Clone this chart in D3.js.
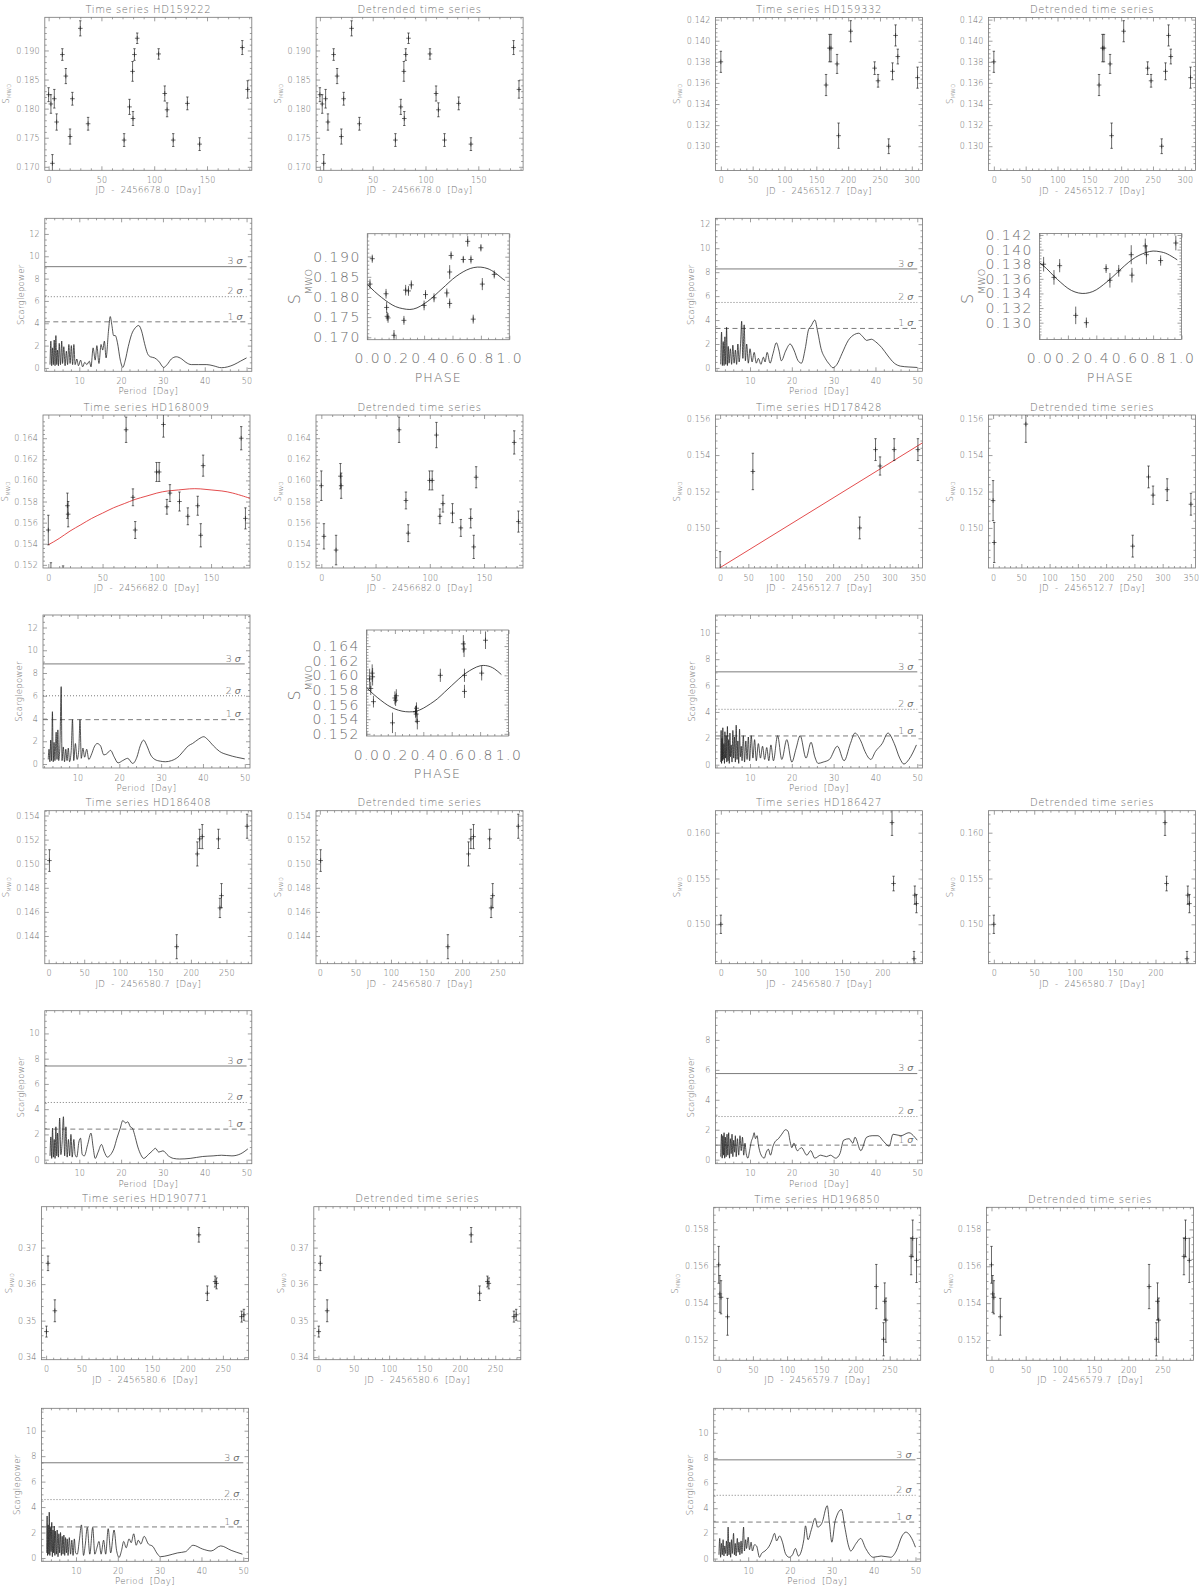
<!DOCTYPE html>
<html><head><meta charset="utf-8">
<script src="https://cdn.jsdelivr.net/npm/d3@7"></script>
<style>
body{margin:0;background:#fff}
</style></head><body>
<svg id="c" width="1200" height="1587" xmlns="http://www.w3.org/2000/svg"></svg>
<script>
// ================= DATA =================
// HD159222
const hd159222T = [0,2.2,3.6,5.4,7.6,13,16.3,20.3,22.5,30,37.4,71.5,76.6,79.5,79.9,81.3,83.9,104.2,110,112.2,118,131.4,143,183.4,188.5];
const hd159222S = [0.1824,0.1808,0.1706,0.1817,0.1777,0.1893,0.1856,0.1752,0.1817,0.1938,0.1774,0.1746,0.1803,0.1864,0.1783,0.1893,0.1921,0.1894,0.1826,0.1798,0.1746,0.1809,0.1739,0.1905,0.1833];
const hd159222Detr = [0.1824,0.1808,0.1706,0.1817,0.1777,0.1893,0.1856,0.1752,0.1817,0.1938,0.1774,0.1746,0.1803,0.1864,0.1783,0.1893,0.1921,0.1894,0.1826,0.1798,0.1746,0.1809,0.1739,0.1905,0.1833];
const hd159222E = [0.0012,0.0016,0.0015,0.0016,0.0014,0.001,0.0013,0.0013,0.0011,0.0013,0.0011,0.0011,0.0013,0.0017,0.0012,0.001,0.0009,0.0009,0.0013,0.0012,0.0011,0.0011,0.0011,0.0012,0.0015];
const hd159222Ph = [0.019,0.035,0.132,0.136,0.140,0.146,0.188,0.258,0.270,0.290,0.310,0.400,0.410,0.470,0.560,0.580,0.580,0.590,0.676,0.707,0.730,0.746,0.800,0.810,0.894];
const hd159222PhS = [0.1832,0.1895,0.1808,0.1774,0.1752,0.1748,0.1705,0.1742,0.1817,0.1815,0.1830,0.1779,0.1806,0.1798,0.1810,0.1784,0.1862,0.1903,0.1893,0.1938,0.1893,0.1745,0.1922,0.1832,0.1856];
const hd159222PhE = [0.0012,0.0010,0.0012,0.0014,0.0011,0.0012,0.0013,0.0011,0.0013,0.0012,0.0011,0.0012,0.0011,0.0011,0.0011,0.0012,0.0017,0.0010,0.0009,0.0013,0.0010,0.0011,0.0009,0.0015,0.0010];
const hd159222Fit = [[0,0.1831],[0.05,0.1814],[0.1,0.1799],[0.15,0.1786],[0.2,0.1776],[0.25,0.1771],[0.3,0.1769],[0.35,0.1773],[0.4,0.1783],[0.45,0.1796],[0.5,0.1812],[0.55,0.1828],[0.6,0.1844],[0.65,0.1857],[0.7,0.1867],[0.75,0.1873],[0.8,0.1874],[0.85,0.1870],[0.9,0.1860],[0.95,0.1846],[0.97,0.1841]];
const pgHD159222 = [[3.0,0.3],[3.2,2.4],[3.4,0.2],[3.6,1.8],[3.8,0.3],[4.0,2.5],[4.2,0.2],[4.4,2.9],[4.6,0.3],[4.8,1.6],[5.0,0.2],[5.2,2.2],[5.5,0.3],[5.8,2.4],[6.0,0.4],[6.3,1.9],[6.6,0.2],[6.9,1.5],[7.2,0.3],[7.5,2.1],[7.8,0.4],[8.1,2.0],[8.4,0.3],[8.7,2.1],[9.0,0.3],[9.4,0.8],[9.8,0.2],[10.3,0.7],[10.8,0.1],[11.3,0.5],[11.8,0.3],[12.4,0.6],[12.8,0.1],[13.3,1.8],[13.8,0.7],[14.2,2.0],[14.7,0.4],[15.2,2.1],[15.6,1.6],[16.0,2.4],[16.4,0.9],[17.0,3.4],[17.4,4.6],[17.8,3.8],[18.2,2.9],[18.6,2.9],[19.1,2.3],[19.8,0.7],[20.4,0.05],[21.0,0.7],[21.7,1.9],[22.5,3.0],[23.4,3.6],[24.2,3.8],[24.9,3.3],[25.6,2.2],[26.3,1.3],[27.0,1.0],[28.0,0.9],[29.0,0.6],[30.2,0.05],[31.0,0.3],[32.0,0.8],[33.2,1.0],[34.5,0.8],[35.5,0.5],[36.8,0.3],[38.5,0.3],[40.5,0.3],[42.0,0.2],[44.0,0.02],[45.5,0.1],[47.0,0.3],[48.5,0.6],[50.0,0.9]];
const sigHD159222 = [4.13,6.38,9.07];

// HD159332
const hd159332T = [0,165.3,170.6,173,182.6,185,204,241.6,247,263.7,269.7,274.5,278,309];
const hd159332S = [0.1380,0.1358,0.1393,0.1393,0.1378,0.1310,0.1409,0.1374,0.1362,0.1300,0.1371,0.1405,0.1385,0.1365];
const hd159332Detr = [0.1380,0.1358,0.1393,0.1393,0.1378,0.1310,0.1409,0.1374,0.1362,0.1300,0.1371,0.1405,0.1385,0.1365];
const hd159332E = [0.001,0.001,0.0013,0.0013,0.0009,0.0012,0.001,0.0006,0.0006,0.0007,0.0008,0.001,0.0007,0.001];
const hd159332Ph = [0.029,0.102,0.142,0.255,0.330,0.469,0.496,0.558,0.646,0.651,0.745,0.753,0.853,0.960];
const hd159332PhS = [0.1380,0.1362,0.1378,0.1310,0.1300,0.1374,0.1358,0.1371,0.1393,0.1365,0.1405,0.1393,0.1385,0.1409];
const hd159332PhE = [0.001,0.001,0.0009,0.0012,0.0007,0.0006,0.001,0.0008,0.0013,0.001,0.001,0.0013,0.0007,0.001];
const hd159332Fit = [[0,0.1382],[0.05,0.1374],[0.1,0.1364],[0.15,0.1355],[0.2,0.1347],[0.25,0.1342],[0.3,0.1340],[0.35,0.1341],[0.4,0.1345],[0.45,0.1352],[0.5,0.1360],[0.55,0.1369],[0.6,0.1378],[0.65,0.1386],[0.7,0.1392],[0.75,0.1396],[0.8,0.1398],[0.85,0.1397],[0.9,0.1394],[0.97,0.1386]];
const pgHD159332 = [[3.0,0.3],[3.2,3.0],[3.4,0.2],[3.6,2.2],[3.8,0.2],[4.0,2.6],[4.2,0.3],[4.4,3.4],[4.6,0.2],[4.8,1.8],[5.0,0.4],[5.3,1.6],[5.6,0.3],[5.9,1.9],[6.2,0.4],[6.5,1.5],[6.8,0.3],[7.1,2.0],[7.4,0.5],[7.8,2.4],[8.0,3.9],[8.3,0.8],[8.6,3.6],[8.9,0.6],[9.2,2.0],[9.6,0.4],[10.0,1.6],[10.5,0.5],[11.0,1.3],[11.5,0.4],[12.0,0.8],[12.6,0.3],[13.2,0.9],[13.6,0.5],[14.1,1.3],[14.8,0.4],[15.5,1.2],[16.3,2.1],[16.9,1.5],[17.5,0.6],[18.5,1.4],[19.6,2.0],[20.5,1.5],[21.5,0.6],[22.3,0.4],[23.2,1.6],[24.0,3.2],[24.6,3.5],[25.5,4.0],[26.2,3.0],[27.0,1.6],[28.0,0.8],[29.0,0.3],[29.8,0.02],[30.8,0.3],[32.0,1.2],[33.5,2.3],[35.0,2.8],[36.0,2.9],[37.0,2.6],[37.9,2.3],[39.0,2.4],[40.0,2.2],[41.5,1.7],[43.0,1.0],[44.5,0.4],[46.0,0.15],[48.0,0.08],[50.0,0.04]];
const sigHD159332 = [3.30,5.47,8.27];

// HD168009
const hd168009T = [0,2.4,13.6,17.6,18.3,71.7,78,80.1,99.8,102.2,106.1,109.3,112.1,120.9,128.6,137.7,140.5,142.7,177.8,181.7];
const hd168009S = [0.1553,0.1510,0.1505,0.1576,0.1568,0.1648,0.1584,0.1553,0.1608,0.1608,0.1653,0.1575,0.1588,0.1580,0.1566,0.1576,0.1548,0.1614,0.1640,0.1564];
const hd168009Detr = [0.1595,0.1547,0.1534,0.1604,0.1595,0.1648,0.1581,0.1550,0.1600,0.1600,0.1643,0.1566,0.1578,0.1569,0.1555,0.1564,0.1537,0.1603,0.1636,0.1561];
const hd168009E = [0.0014,0.0012,0.0014,0.0012,0.0012,0.0012,0.0008,0.0008,0.0009,0.0009,0.0012,0.0007,0.0008,0.0009,0.0008,0.0009,0.0011,0.001,0.0011,0.001];
const hd168009TrendT = [0,10,20,30,40,50,60,70,80,90,100,110,120,130,140,150,160,170,180,186];
const hd168009TrendS = [0.1539,0.1545,0.1552,0.1558,0.1564,0.1569,0.1574,0.1578,0.1582,0.1585,0.1588,0.1590,0.1591,0.1592,0.1592,0.1591,0.1590,0.1588,0.1585,0.1583];
const hd168009Ph = [0.022,0.030,0.043,0.040,0.049,0.183,0.200,0.205,0.210,0.345,0.350,0.358,0.352,0.520,0.682,0.687,0.690,0.690,0.811,0.838];
const hd168009PhS = [0.1595,0.1582,0.1598,0.1603,0.1564,0.1535,0.1569,0.1566,0.1572,0.1550,0.1547,0.1537,0.1555,0.1600,0.1643,0.1636,0.1600,0.1578,0.1603,0.1648];
const hd168009PhE = [0.0014,0.0009,0.0012,0.0012,0.0008,0.0014,0.0009,0.0008,0.0009,0.0008,0.0012,0.0011,0.0008,0.0009,0.0012,0.0011,0.0009,0.0009,0.001,0.0012];
const hd168009Fit = [[0,0.1583],[0.05,0.1574],[0.1,0.1566],[0.15,0.1559],[0.2,0.1554],[0.25,0.1551],[0.3,0.1550],[0.35,0.1551],[0.4,0.1555],[0.45,0.1561],[0.5,0.1568],[0.55,0.1577],[0.6,0.1586],[0.65,0.1595],[0.7,0.1603],[0.75,0.1609],[0.8,0.1613],[0.85,0.1613],[0.9,0.1609],[0.95,0.1601]];
const pgHD168009 = [[3.0,0.4],[3.2,1.3],[3.4,0.2],[3.6,2.1],[3.8,0.3],[4.0,4.6],[4.2,0.2],[4.4,1.9],[4.6,0.3],[4.9,2.8],[5.1,0.4],[5.3,3.0],[5.5,0.3],[5.8,1.7],[6.1,6.8],[6.3,0.3],[6.6,1.5],[6.9,0.2],[7.2,1.3],[7.5,0.3],[7.8,1.4],[8.1,0.2],[8.5,1.2],[8.8,3.9],[9.1,0.3],[9.5,1.8],[9.9,0.4],[10.3,1.2],[10.6,3.9],[10.9,0.5],[11.3,1.4],[11.7,0.6],[12.2,1.3],[12.7,0.4],[13.4,0.9],[14.0,1.5],[14.7,1.8],[15.5,1.6],[16.3,0.8],[17.0,0.9],[17.9,1.2],[18.8,0.6],[19.7,0.1],[20.8,0.3],[22.0,0.5],[23.2,0.05],[24.2,0.6],[25.0,1.6],[25.8,2.1],[26.6,1.6],[27.5,0.8],[28.5,0.4],[29.8,0.25],[31.0,0.2],[32.5,0.3],[34.0,0.6],[35.5,1.2],[36.5,1.6],[37.5,1.8],[39.0,2.2],[40.2,2.4],[41.0,2.2],[42.5,1.6],[44.0,1.1],[46.0,0.8],[48.0,0.6],[50.0,0.45]];
const sigHD168009 = [3.9,6.0,8.8];

// HD178428
const hd178428T = [0,2,58,247,275,283,308,350];
const hd178428S = [0.1476,0.1454,0.1531,0.1500,0.1543,0.1534,0.1543,0.1543];
const hd178428Detr = [0.1515,0.1492,0.1557,0.1490,0.1528,0.1518,0.1521,0.1513];
const hd178428E = [0.0011,0.0011,0.001,0.0006,0.0006,0.0005,0.0006,0.0006];
const hd178428TrendT = [0,358];
const hd178428TrendS = [0.14782,0.15467];
const pgHD178428 = [[3.0,0.2],[3.1,2.6],[3.2,0.1],[3.3,2.0],[3.4,0.3],[3.5,2.8],[3.6,0.4],[3.75,1.6],[3.9,0.1],[4.0,2.5],[4.15,0.5],[4.3,2.2],[4.45,0.2],[4.6,2.9],[4.75,0.3],[4.9,1.9],[5.05,0.1],[5.2,2.4],[5.35,0.6],[5.5,1.5],[5.7,0.2],[5.9,2.6],[6.1,0.5],[6.3,2.1],[6.5,0.2],[6.7,3.0],[6.9,0.4],[7.1,1.8],[7.3,0.1],[7.5,2.7],[7.7,0.6],[7.9,1.4],[8.1,0.3],[8.4,2.2],[8.7,0.2],[9.0,1.8],[9.3,0.4],[9.6,2.1],[9.9,0.3],[10.3,2.2],[10.7,0.5],[11.1,1.9],[11.5,0.3],[12.0,1.6],[12.5,0.5],[13.0,1.4],[13.5,0.4],[14.0,1.3],[14.5,0.3],[15.0,1.5],[15.6,0.3],[16.6,2.2],[17.6,0.4],[18.8,1.9],[20.0,0.2],[21.0,1.2],[22.0,2.2],[23.4,0.5],[24.6,1.7],[25.5,0.6],[26.3,0.1],[27.5,0.2],[29.0,0.4],[30.9,1.4],[32.5,0.3],[34.0,1.6],[35.1,2.4],[36.5,1.8],[37.5,1.0],[38.9,0.4],[40.0,1.0],[41.6,1.6],[43.0,2.4],[44.5,1.6],[45.8,0.5],[46.8,0.05],[48.0,0.4],[49.8,1.5]];
const sigHD178428 = [2.18,4.2,7.04];

// HD186408
const hd186408T = [1.1,180,209,212.3,216,238.7,240.8,243,279];
const hd186408S = [0.15026,0.14311,0.15081,0.15206,0.15225,0.15206,0.14633,0.14735,0.15311];
const hd186408Detr = [0.15026,0.14311,0.15081,0.15206,0.15225,0.15206,0.14633,0.14735,0.15311];
const hd186408E = [0.0009,0.001,0.001,0.0008,0.001,0.0008,0.0008,0.001,0.001];
const pgHD186408 = [[3.0,0.3],[3.2,1.8],[3.4,0.1],[3.6,2.5],[3.8,0.2],[4.0,1.6],[4.2,0.1],[4.4,2.6],[4.6,0.3],[4.8,2.1],[5.0,0.2],[5.3,3.3],[5.6,0.4],[5.9,1.4],[6.2,3.4],[6.5,0.3],[6.8,2.6],[7.1,0.2],[7.4,1.6],[7.7,0.3],[8.0,2.0],[8.3,0.2],[8.7,1.6],[9.0,0.4],[9.4,0.2],[9.9,1.4],[10.3,1.7],[10.7,0.4],[11.2,0.3],[12.0,1.2],[12.8,2.1],[13.3,1.0],[13.8,0.1],[14.5,0.6],[15.3,1.2],[16.0,0.6],[16.7,0.2],[17.5,0.4],[18.3,0.9],[19.0,1.7],[19.8,2.5],[20.4,3.1],[21.1,2.9],[21.6,3.0],[22.2,2.6],[22.7,2.5],[23.2,2.0],[24.0,1.0],[24.7,0.4],[25.4,0.1],[26.5,0.4],[27.5,0.7],[28.2,0.9],[29.0,0.6],[30.0,0.7],[31.3,0.3],[32.5,0.1],[34.0,0.05],[36.5,0.1],[39.5,0.25],[42.0,0.3],[44.0,0.35],[46.5,0.3],[48.5,0.45],[50.3,0.85]];
const sigHD186408 = [2.42,4.53,7.42];

// HD186427
const hd186427T = [0,211.8,213.7,239,240,242];
const hd186427S = [0.1500,0.1611,0.15445,0.14624,0.15318,0.15226];
const hd186427Detr = [0.1500,0.1611,0.15445,0.14624,0.15318,0.15226];
const hd186427E = [0.001,0.0014,0.0008,0.0008,0.001,0.001];
const pgHD186427 = [[3.0,0.2],[3.2,1.7],[3.35,0.1],[3.5,1.6],[3.65,0.3],[3.8,1.8],[3.95,0.1],[4.1,1.5],[4.3,0.2],[4.5,1.7],[4.7,0.3],[4.9,1.8],[5.1,0.1],[5.3,1.4],[5.5,0.4],[5.7,1.7],[5.9,0.2],[6.1,1.3],[6.3,0.5],[6.5,1.6],[6.7,0.2],[7.0,1.4],[7.3,0.3],[7.6,1.6],[7.9,0.6],[8.2,1.5],[8.5,0.3],[8.8,1.1],[9.1,0.4],[9.5,0.1],[9.9,0.6],[10.3,1.2],[10.7,1.5],[11.0,1.8],[11.3,1.4],[11.7,1.6],[12.0,1.0],[12.4,0.5],[12.9,0.2],[13.4,0.1],[13.9,0.5],[14.4,0.7],[14.9,0.3],[15.5,0.9],[16.0,1.2],[16.8,1.4],[17.6,1.7],[18.5,2.0],[19.1,1.9],[19.6,1.2],[20.0,0.8],[20.5,1.1],[21.3,0.6],[22.3,0.8],[23.6,0.3],[24.5,0.6],[25.5,0.1],[26.9,0.3],[28.3,0.2],[29.2,0.3],[30.5,0.1],[31.5,0.4],[32.4,1.3],[33.7,1.4],[34.6,1.1],[35.1,1.5],[36.5,0.6],[37.9,1.5],[39.2,1.6],[40.6,1.6],[42.0,1.2],[43.3,0.9],[44.2,1.7],[46.1,1.6],[48.0,1.8],[49.4,1.5],[50.0,1.3]];
const sigHD186427 = [0.97,2.88,5.75];

// HD190771
const hd190771T = [0.5,2.7,12.4,216,228,239,241,276.5,279.7];
const hd190771S = [0.3470,0.3657,0.3527,0.3735,0.3575,0.3607,0.3602,0.3511,0.3516];
const hd190771Detr = [0.3470,0.3657,0.3527,0.3735,0.3575,0.3607,0.3602,0.3511,0.3516];
const hd190771E = [0.0015,0.002,0.003,0.002,0.002,0.0015,0.0015,0.0015,0.0015];
const pgHD190771 = [[3.0,0.4],[3.1,3.3],[3.2,0.2],[3.35,2.6],[3.5,0.3],[3.6,3.6],[3.75,0.2],[3.9,2.4],[4.05,0.5],[4.2,2.8],[4.35,0.1],[4.5,2.2],[4.65,0.4],[4.8,2.5],[4.95,0.2],[5.1,2.1],[5.3,0.3],[5.5,2.2],[5.7,0.1],[5.9,1.9],[6.1,0.4],[6.3,2.0],[6.5,0.2],[6.7,1.7],[6.9,0.3],[7.1,1.8],[7.3,0.2],[7.5,1.6],[7.7,0.4],[7.9,1.5],[8.1,0.2],[8.4,1.6],[8.7,0.3],[9.0,1.4],[9.3,0.2],[9.6,1.5],[9.9,0.4],[10.3,0.3],[10.8,1.4],[11.3,2.6],[11.8,0.2],[12.2,1.0],[12.7,2.4],[13.3,0.3],[14.0,2.4],[14.5,0.3],[15.0,0.8],[15.5,1.3],[16.0,0.3],[16.6,1.4],[17.1,0.3],[17.7,2.3],[18.3,0.4],[19.1,2.2],[19.7,0.6],[20.3,0.05],[20.9,0.6],[21.4,1.3],[22.0,0.8],[22.7,1.5],[23.2,1.2],[23.8,1.9],[24.4,1.0],[24.9,1.4],[25.5,1.1],[26.3,1.7],[27.3,1.1],[28.4,0.9],[29.3,0.4],[30.2,0.1],[32.0,0.2],[34.3,0.4],[36.2,0.5],[38.0,1.0],[40.3,0.7],[42.3,0.55],[44.6,0.95],[47.1,0.6],[49.8,0.3]];
const sigHD190771 = [2.44,4.59,7.48];

// HD196850
const hd196850T = [0,1.7,3.4,12.9,230.4,241,242.7,244.4,281.3,283.6,289.2];
const hd196850S = [0.15608,0.1545,0.15432,0.15326,0.1549,0.15204,0.1541,0.15308,0.15654,0.15751,0.15632];
const hd196850Detr = [0.15608,0.1545,0.15432,0.15326,0.1549,0.15204,0.1541,0.15308,0.15654,0.15751,0.15632];
const hd196850E = [0.001,0.001,0.0009,0.001,0.0012,0.0009,0.001,0.0012,0.001,0.001,0.0012];
const pgHD196850 = [[3.0,0.3],[3.2,1.6],[3.4,0.1],[3.6,1.2],[3.8,0.3],[4.0,1.5],[4.2,0.2],[4.4,1.0],[4.6,0.4],[4.8,1.4],[5.0,0.2],[5.2,2.5],[5.4,0.3],[5.6,1.3],[5.8,0.1],[6.0,1.5],[6.2,0.4],[6.5,2.0],[6.7,0.3],[6.9,1.2],[7.1,0.2],[7.4,1.6],[7.6,0.5],[7.8,1.3],[8.0,0.3],[8.3,1.4],[8.5,0.4],[8.9,2.5],[9.1,0.6],[9.4,1.5],[9.6,0.8],[10.0,1.7],[10.3,0.7],[10.7,1.3],[11.0,0.6],[11.5,1.1],[12.0,1.0],[12.7,0.1],[13.2,0.4],[14.0,0.6],[15.2,1.1],[15.7,1.5],[16.3,2.0],[16.8,1.4],[17.5,1.8],[18.2,1.3],[18.9,0.4],[19.8,0.1],[20.6,0.3],[21.3,0.8],[22.0,0.2],[23.3,1.5],[23.7,2.6],[24.3,1.5],[25.1,2.3],[26.0,3.2],[26.6,2.5],[27.6,2.8],[28.9,4.2],[29.4,2.9],[30.0,1.3],[30.8,3.0],[32.3,3.9],[33.1,2.5],[34.0,1.0],[34.5,0.6],[35.8,1.2],[36.9,1.6],[38.1,0.8],[39.9,0.1],[41.8,0.2],[44.1,0.1],[45.4,0.6],[46.8,1.8],[47.7,2.1],[49.1,1.6],[50.0,0.9]];
const sigHD196850 = [2.9,5.03,7.85];

// tick labels
const xTicks150 = [0,50,100,150];
const xTicks200 = [0,50,100,150,200];
const xTicks250 = [0,50,100,150,200,250];
const xTicks300 = [0,50,100,150,200,250,300];
const xTicks350 = [0,50,100,150,200,250,300,350];
const yTicksHD159222 = [0.170,0.175,0.180,0.185,0.190];
const yTicksHD159332 = [0.130,0.132,0.134,0.136,0.138,0.140,0.142];
const yTicksHD168009 = [0.152,0.154,0.156,0.158,0.160,0.162,0.164];
const yTicksHD178428 = [0.150,0.152,0.154,0.156];
const yTicksHD186408 = [0.144,0.146,0.148,0.150,0.152,0.154];
const yTicksHD186427 = [0.150,0.155,0.160];
const yTicksHD190771 = [0.34,0.35,0.36,0.37];
const yTicksHD196850 = [0.152,0.154,0.156,0.158];
const pgXTicks = [10,20,30,40,50];
const pgYTicks12 = [0,2,4,6,8,10,12];
const pgYTicks10 = [0,2,4,6,8,10];
const pgYTicks8 = [0,2,4,6,8];
const phaseTicks = [0,0.2,0.4,0.6,0.8,1.0];
const sigmaNames = ["1","2","3"];

// ================= CONFIG (scales / layout) =================
const stars = [
 {star:"HD159222", jd:"2456678.0", t:hd159222T, s:hd159222S, d:hd159222Detr, e:hd159222E, xd:[-3.6,192.4], yd:[0.1694,0.1957], xt:xTicks150, yt:yTicksHD159222, dec:3, pg:pgHD159222, sig:sigHD159222, pgy:[-0.3,13.4], pgyt:pgYTicks12,
  ph:{p:hd159222Ph, s:hd159222PhS, e:hd159222PhE, fit:hd159222Fit}},
 {star:"HD159332", jd:"2456512.7", t:hd159332T, s:hd159332S, d:hd159332Detr, e:hd159332E, xd:[-8.4,316.8], yd:[0.1277,0.1422], xt:xTicks300, yt:yTicksHD159332, dec:3, pg:pgHD159332, sig:sigHD159332, pgy:[-0.28,12.5], pgyt:pgYTicks12,
  ph:{p:hd159332Ph, s:hd159332PhS, e:hd159332PhE, fit:hd159332Fit}},
 {star:"HD168009", jd:"2456682.0", t:hd168009T, s:hd168009S, d:hd168009Detr, e:hd168009E, xd:[-4.9,185.9], yd:[0.1517,0.1662], xt:xTicks150, yt:yTicksHD168009, dec:3, pg:pgHD168009, sig:sigHD168009, pgy:[-0.35,13.1], pgyt:pgYTicks12,
  trend:{t:hd168009TrendT, s:hd168009TrendS, curve:true},
  ph:{p:hd168009Ph, s:hd168009PhS, e:hd168009PhE, fit:hd168009Fit}},
 {star:"HD178428", jd:"2456512.7", t:hd178428T, s:hd178428S, d:hd178428Detr, e:hd178428E, xd:[-8.1,358.1], yd:[0.1478,0.1562], xt:xTicks350, yt:yTicksHD178428, dec:3, pg:pgHD178428, sig:sigHD178428, pgy:[-0.25,11.35], pgyt:pgYTicks10,
  trend:{t:hd178428TrendT, s:hd178428TrendS, curve:false}},
 {star:"HD186408", jd:"2456580.7", t:hd186408T, s:hd186408S, d:hd186408Detr, e:hd186408E, xd:[-5.4,285.6], yd:[0.1417,0.1544], xt:xTicks250, yt:yTicksHD186408, dec:3, pg:pgHD186408, sig:sigHD186408, pgy:[-0.32,11.8], pgyt:pgYTicks10},
 {star:"HD186427", jd:"2456580.7", t:hd186427T, s:hd186427S, d:hd186427Detr, e:hd186427E, xd:[-6.6,249.5], yd:[0.1457,0.1624], xt:xTicks200, yt:yTicksHD186427, dec:3, pg:pgHD186427, sig:sigHD186427, pgy:[-0.27,9.95], pgyt:pgYTicks8},
 {star:"HD190771", jd:"2456580.6", t:hd190771T, s:hd190771S, d:hd190771Detr, e:hd190771E, xd:[-6.5,286.2], yd:[0.3393,0.3812], xt:xTicks250, yt:yTicksHD190771, dec:2, pg:pgHD190771, sig:sigHD190771, pgy:[-0.26,11.76], pgyt:pgYTicks10},
 {star:"HD196850", jd:"2456579.7", t:hd196850T, s:hd196850S, d:hd196850Detr, e:hd196850E, xd:[-7.3,295.3], yd:[0.1509,0.1592], xt:xTicks250, yt:yTicksHD196850, dec:3, pg:pgHD196850, sig:sigHD196850, pgy:[-0.22,11.95], pgyt:pgYTicks10}
];
const layout = {
 HD159222:{ts:[44.8,17.3], det:[316.1,17.3], pg:[44.8,218.3], ph:[367.3,233.7]},
 HD159332:{ts:[715.5,17.5], det:[988.5,17.5], pg:[715.5,218.3], ph:[1039.5,233.5]},
 HD168009:{ts:[43,415], det:[316,415], pg:[43,615], ph:[366.5,630]},
 HD178428:{ts:[715.5,415], det:[988.5,415], pg:[715.5,615]},
 HD186408:{ts:[44.8,810.7], det:[316,810.7], pg:[44.8,1010.7]},
 HD186427:{ts:[715.5,810.7], det:[988.5,810.7], pg:[715.5,1010.7]},
 HD190771:{ts:[41.5,1206.7], det:[313.8,1206.7], pg:[41.5,1408.3]},
 HD196850:{ts:[713.7,1207.3], det:[986.5,1207.3], pg:[713.7,1408.3]}
};
const W = 207, H = 153, PW = 142, PH = 106;
const PG_XD = [1.75,51.25];
const FONT = "'DejaVu Sans', 'Liberation Sans', sans-serif";
const FW = 200;
const AX = "#767676", TXT = "#6c6c6c", INK = "#1c1c1c", RED = "#e0393a";

// ================= DRAWING =================
const svg = d3.select("#c");
const defs = svg.append("defs");
let clipN = 0;

function minors(domain, majors, n){
  const step = majors[1]-majors[0], ms = step/n, out = [];
  const k0 = Math.ceil(domain[0]/ms - 1e-6), k1 = Math.floor(domain[1]/ms + 1e-6);
  for (let k=k0;k<=k1;k++){
    const v = +(k*ms).toFixed(10);
    if (Math.abs(Math.round(k) % n) !== 0) out.push(v);
  }
  return out;
}

function text(str, x, y, o){
  const t = svg.append("text").attr("x",x).attr("y",y)
    .attr("font-family",FONT).attr("font-weight",FW).attr("font-size",o.size).attr("fill",TXT)
    .attr("letter-spacing",o.ls||0)
    .attr("text-anchor",o.anchor||"start").style("white-space","pre");
  if (o.rot) t.attr("transform",`rotate(${o.rot},${x},${y})`);
  t.text(str);
  return t;
}

function panel(p){
  const x = d3.scaleLinear().domain(p.xd).range([p.x0, p.x0+p.w]);
  const y = d3.scaleLinear().domain(p.yd).range([p.y0+p.h, p.y0]);
  const g = svg.append("g");
  const id = "clip"+(clipN++);
  defs.append("clipPath").attr("id",id).append("rect")
    .attr("x",p.x0).attr("y",p.y0).attr("width",p.w).attr("height",p.h);
  const xmin = minors(p.xd, p.xt, p.xm), ymin = minors(p.yd, p.yt, p.ym);
  const ax = (fn, scale, vals, len, tr, fmt, pad) => {
    const a = fn(scale).tickValues(vals).tickSizeInner(-len).tickSizeOuter(0)
      .tickPadding(pad||0).tickFormat(fmt || (()=>""));
    const s = g.append("g").attr("transform",tr).call(a);
    s.select(".domain").remove();
    s.attr("font-family",null).attr("font-size",null);
    s.selectAll("line").attr("stroke",AX).attr("stroke-width",0.7);
    s.selectAll("text").attr("fill",TXT).attr("font-size",p.fs).attr("font-family",FONT)
      .attr("font-weight",FW).attr("letter-spacing",p.ls||0);
  };
  const bot = `translate(0,${p.y0+p.h})`, top = `translate(0,${p.y0})`,
        lef = `translate(${p.x0},0)`, rig = `translate(${p.x0+p.w},0)`;
  const xv = p.xt.filter(v=>v>=p.xd[0]&&v<=p.xd[1]), yv = p.yt.filter(v=>v>=p.yd[0]&&v<=p.yd[1]);
  ax(d3.axisBottom, x, xv, p.maj, bot, p.xf, p.xpad);
  ax(d3.axisBottom, x, xmin, p.min, bot);
  ax(d3.axisTop, x, xv, p.maj, top);
  ax(d3.axisTop, x, xmin, p.min, top);
  ax(d3.axisLeft, y, yv, p.maj, lef, p.yf, p.ypad);
  ax(d3.axisLeft, y, ymin, p.min, lef);
  ax(d3.axisRight, y, yv, p.maj, rig);
  ax(d3.axisRight, y, ymin, p.min, rig);
  g.append("rect").attr("x",p.x0).attr("y",p.y0).attr("width",p.w).attr("height",p.h)
    .attr("fill","none").attr("stroke",AX).attr("stroke-width",0.8);
  const plot = svg.append("g").attr("clip-path",`url(#${id})`);
  return {x,y,plot};
}

function points(P, xs, ys, es, arm, cap){
  const data = d3.zip(xs, ys, es);
  const grp = P.plot.append("g").attr("stroke",INK).attr("stroke-width",0.65).attr("fill","none");
  const pts = grp.selectAll("g").data(data).join("g");
  pts.append("line").attr("x1",d=>P.x(d[0])).attr("x2",d=>P.x(d[0]))
    .attr("y1",d=>P.y(d[1]-d[2])).attr("y2",d=>P.y(d[1]+d[2]));
  if (cap > 0){
    pts.append("line").attr("x1",d=>P.x(d[0])-cap).attr("x2",d=>P.x(d[0])+cap)
      .attr("y1",d=>P.y(d[1]-d[2])).attr("y2",d=>P.y(d[1]-d[2]));
    pts.append("line").attr("x1",d=>P.x(d[0])-cap).attr("x2",d=>P.x(d[0])+cap)
      .attr("y1",d=>P.y(d[1]+d[2])).attr("y2",d=>P.y(d[1]+d[2]));
  }
  pts.append("line").attr("x1",d=>P.x(d[0])-arm).attr("x2",d=>P.x(d[0])+arm)
    .attr("y1",d=>P.y(d[1])).attr("y2",d=>P.y(d[1]));
  pts.append("line").attr("x1",d=>P.x(d[0])).attr("x2",d=>P.x(d[0]))
    .attr("y1",d=>P.y(d[1])-arm).attr("y2",d=>P.y(d[1])+arm);
}

function smwo(bx, cy, fs, fsub, dy){
  const t = svg.append("text").attr("transform",`translate(${bx},${cy}) rotate(-90)`)
    .attr("text-anchor","middle").attr("font-family",FONT).attr("font-weight",FW).attr("fill",TXT);
  t.append("tspan").attr("font-size",fs).text("S");
  t.append("tspan").attr("font-size",fsub).attr("dy",dy).text("MWO");
}

function tsPanel(S, pos, title){
  const [x0,y0] = pos;
  const f = d3.format("."+S.dec+"f");
  const P = panel({x0,y0,w:W,h:H,xd:S.xd,yd:S.yd,xt:S.xt,yt:S.yt,xm:5,
    ym:(Math.round((S.yt[1]-S.yt[0])*1e4)%5===0?5:4),
    xf:d3.format("d"), yf:f, fs:8, xpad:7, ypad:5, maj:4, min:2, ls:0.15});
  text(title, x0+W/2, y0-4.3, {size:10, anchor:"middle", ls:0.6});
  text("JD  -  "+S.jd+"  [Day]", x0+W/2, y0+H+23, {size:8.6, anchor:"middle", ls:0.3});
  smwo(x0-(S.dec===2?29.5:35.5), y0+H/2, 8.5, 5.5, 2);
  return P;
}

stars.forEach(S=>{
  const L = layout[S.star];
  // time series
  const P1 = tsPanel(S, L.ts, "Time series "+S.star);
  if (S.trend){
    const ln = d3.line().x(d=>P1.x(d[0])).y(d=>P1.y(d[1]))
      .curve(S.trend.curve ? d3.curveNatural : d3.curveLinear);
    P1.plot.append("path").attr("d", ln(d3.zip(S.trend.t, S.trend.s)))
      .attr("fill","none").attr("stroke",RED).attr("stroke-width",0.9);
  }
  points(P1, S.t, S.s, S.e, 2.3, 1.2);
  // detrended
  const P2 = tsPanel(S, L.det, "Detrended time series");
  points(P2, S.t, S.d, S.e, 2.3, 1.2);
  // periodogram
  const [gx,gy] = L.pg;
  const P3 = panel({x0:gx,y0:gy,w:W,h:H,xd:PG_XD,yd:S.pgy,xt:pgXTicks,yt:S.pgyt,xm:5,ym:4,
    xf:d3.format("d"), yf:d3.format("d"), fs:8, xpad:7, ypad:5, maj:4, min:2, ls:0.15});
  text("Period  [Day]", gx+W/2, gy+H+23, {size:8.6, anchor:"middle", ls:0.3});
  text("Scarglepower", gx-21, gy+H/2, {size:8.6, anchor:"middle", rot:-90, ls:0.2});
  const styles = ["5,3.5","1,2",null];
  S.sig.forEach((lev,i)=>{
    const l = P3.plot.append("line").attr("x1",gx).attr("x2",P3.x(50))
      .attr("y1",P3.y(lev)).attr("y2",P3.y(lev)).attr("stroke","#5a5a5a").attr("stroke-width",0.8);
    if (styles[i]) l.attr("stroke-dasharray",styles[i]);
    const t = svg.append("text").attr("x",P3.x(50)-4).attr("y",P3.y(lev)-2.2)
      .attr("text-anchor","end").attr("font-family",FONT).attr("font-weight",FW)
      .attr("font-size",9.5).attr("fill",TXT).style("white-space","pre");
    t.append("tspan").text(sigmaNames[i]+" ");
    t.append("tspan").attr("font-style","italic").text("σ");
  });
  const pl = d3.line().x(d=>P3.x(d[0])).y(d=>P3.y(d[1])).curve(d3.curveMonotoneX);
  P3.plot.append("path").attr("d",pl(S.pg)).attr("fill","none").attr("stroke",INK).attr("stroke-width",0.75);
  // phase plot
  if (S.ph){
    const [px,py] = L.ph;
    const f = d3.format("."+S.dec+"f");
    const P4 = panel({x0:px,y0:py,w:PW,h:PH,xd:[0,1],yd:S.yd,xt:phaseTicks,yt:S.yt,xm:4,
      ym:(Math.round((S.yt[1]-S.yt[0])*1e4)%5===0?5:4),
      xf:d3.format(".1f"), yf:f, fs:14, xpad:13.8, ypad:6.5, maj:4, min:2, ls:1.5});
    text("PHASE", px+PW/2, py+PH+42, {size:12.5, anchor:"middle", ls:1.2});
    smwo(px-67, py+PH/2, 16, 9.5, 12);
    const fl = d3.line().x(d=>P4.x(d[0])).y(d=>P4.y(d[1])).curve(d3.curveNatural);
    P4.plot.append("path").attr("d",fl(S.ph.fit)).attr("fill","none").attr("stroke",INK).attr("stroke-width",0.8);
    points(P4, S.ph.p, S.ph.s, S.ph.e, 2.5, 0);
  }
});
</script>
</body></html>
